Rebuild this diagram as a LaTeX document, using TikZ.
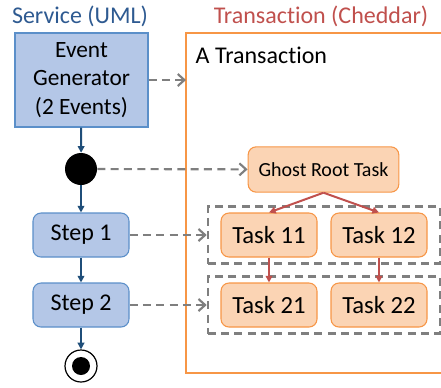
\documentclass[tikz,border=0pt]{standalone}
\usepackage{fontspec}
\setmainfont[Ligatures=NoCommon]{Carlito}
\usetikzlibrary{arrows.meta, positioning, fit}

\definecolor{umlblue}{HTML}{1F4E79}
\definecolor{umltitle}{HTML}{2E5A91}
\definecolor{boxblue}{HTML}{B4C7E7}
\definecolor{lineblue}{HTML}{5B8FC9}
\definecolor{txorange}{HTML}{F79646}
\definecolor{taskfill}{HTML}{FBD4B4}
\definecolor{txred}{HTML}{C0504D}
\definecolor{linkgray}{HTML}{7F7F7F}

\begin{document}
\begin{tikzpicture}[x=0.75pt, y=-0.75pt,
    umlbox/.style={rectangle, draw=lineblue, line width=0.8pt, fill=boxblue, inner sep=0pt, align=center, font=\fontsize{17.5}{21.5}\selectfont},
    umlstep/.style={umlbox, rounded corners=6pt, minimum width=72pt, minimum height=33pt, font=\fontsize{18}{20}\selectfont},
    task/.style={rectangle, rounded corners=6pt, draw=txorange, line width=0.8pt, fill=taskfill, inner sep=0pt, minimum width=72pt, minimum height=33pt, font=\fontsize{18.5}{20}\selectfont},
    group/.style={rectangle, draw=linkgray, dashed, dash pattern=on 6pt off 4pt, line width=1.6pt, inner xsep=9.5pt, inner ysep=4.5pt},
    flow/.style={-{Triangle[length=5pt, width=5pt]}, umlblue, line width=1.5pt},
    subtask/.style={-{Triangle[length=5pt, width=5pt]}, txred, line width=1.5pt},
    link/.style={-{Straight Barb[length=5pt, width=9pt]}, linkgray, line width=1.6pt, dash pattern=on 6pt off 4pt}
]
    \useasboundingbox (0,0) rectangle (441,387);

    % Titles
    \node[umltitle, font=\fontsize{18}{20}\selectfont] (umltitle) at (80,16) {Service (UML)};
    \node[txred, font=\fontsize{18}{20}\selectfont] (txtitle) at (321,16) {Transaction (Cheddar)};

    % Transaction frame
    \draw[txorange, line width=1.1pt] (186,33) rectangle (447,373);
    \coordinate (frameleft) at (186,80);
    \node[anchor=west, font=\fontsize{18}{20}\selectfont] (txlabel) at (191,55) {A Transaction};

    % Service side
    \node[umlbox, minimum width=99.75pt, minimum height=70.5pt] (event) at (81.5,80) {Event\\Generator\\(2 Events)};
    \node[circle, fill=black, inner sep=0pt, minimum size=24pt] (fork) at (81,169) {};
    \node[umlstep] (step1) at (81,235) {Step 1};
    \node[umlstep] (step2) at (81,305) {Step 2};
    \node[circle, draw=black, line width=0.9pt, fill=white, inner sep=0pt, minimum size=24pt] (final) at (81,366) {};
    \node[circle, fill=black, inner sep=0pt, minimum size=13.5pt] (finaldot) at (final.center) {};

    % Tasks
    \node[task, minimum width=113pt, minimum height=34pt, font=\fontsize{15}{16}\selectfont] (ghost) at (323.5,169.5) {Ghost Root Task};
    \node[task] (t11) at (269,235) {Task 11};
    \node[task] (t12) at (379,235) {Task 12};
    \node[task] (t21) at (269,305) {Task 21};
    \node[task] (t22) at (379,305) {Task 22};

    % Step groups
    \node[group, fit=(t11)(t12)] (grp1) {};
    \node[group, fit=(t21)(t22)] (grp2) {};

    % Control flow
    \draw[flow] (event) -- (fork);
    \draw[flow] (fork) -- (step1);
    \draw[flow] (step1) -- (step2);
    \draw[flow] (step2) -- (final);

    % Task tree
    \draw[subtask] (ghost.south) -- (t11.north);
    \draw[subtask] (ghost.south) -- (t12.north);
    \draw[subtask] (t11) -- (t21);
    \draw[subtask] (t12) -- (t22);

    % Mapping
    \draw[link] (event.east) -- (frameleft);
    \draw[link] (fork) -- (ghost);
    \draw[link] (step1) -- (step1 -| grp1.west);
    \draw[link] (step2) -- (step2 -| grp2.west);

\end{tikzpicture}
\end{document}
